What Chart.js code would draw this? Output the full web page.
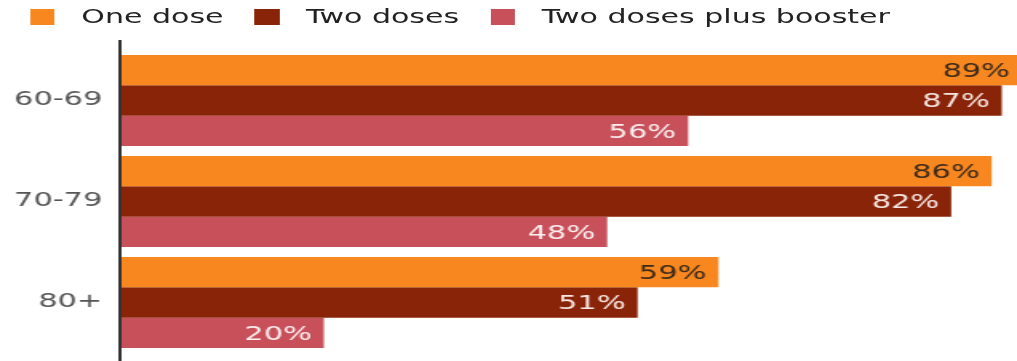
<!DOCTYPE html>
<html>
<head>
<meta charset="utf-8">
<script src="https://cdn.jsdelivr.net/npm/chart.js@4/dist/chart.umd.min.js"></script>
<style>
  html, body { margin: 0; padding: 0; background: #fff; overflow: hidden; }
  /* the reference is stretched sideways, so draw narrow and widen the whole thing */
  #wrap { position: relative; width: 636px; height: 361px; transform: scaleX(1.599); transform-origin: 0 0; }
  #legend { position: absolute; top: 0; left: 0; height: 34px; padding-left: 18.75px; display: flex; align-items: center;
            font-family: "DejaVu Sans", sans-serif; font-size: 18.8px; color: #222; line-height: 1; }
  #legend .box { width: 15.6px; height: 16px; margin-right: 16.5px; }
  #legend .txt { margin-right: 19.5px; }
  canvas { position: absolute; top: 0; left: 0; }
</style>
</head>
<body>
<div id="wrap">
  <div id="legend"></div>
  <canvas id="chart" width="636" height="361" style="width:636px;height:361px"></canvas>
</div>
<script>
const categories = ['60-69', '70-79', '80+'];
const seriesNames = ['One dose', 'Two doses', 'Two doses plus booster'];
const oneDose = [89, 86, 59];
const twoDoses = [87, 82, 51];
const booster = [56, 48, 20];

const colors = ['#f8871f', '#8a2408', '#c8505a'];
const labelColors = ['#3a2a1c', '#f6e7e2', '#fbeeee'];
const FONT = '"DejaVu Sans", sans-serif';

// html legend
const legend = document.getElementById('legend');
seriesNames.forEach((name, i) => {
  const b = document.createElement('span');
  b.className = 'box';
  b.style.background = colors[i];
  const t = document.createElement('span');
  t.className = 'txt';
  t.textContent = name;
  legend.appendChild(b);
  legend.appendChild(t);
});

// y axis line running a bit past the plot
const axisLine = {
  id: 'axisLine',
  beforeDatasetsDraw(chart) {
    const { ctx, chartArea } = chart;
    ctx.save();
    ctx.strokeStyle = '#333';
    ctx.lineWidth = 2;
    ctx.beginPath();
    ctx.moveTo(chartArea.left - 1, chartArea.top - 10);
    ctx.lineTo(chartArea.left - 1, chart.height);
    ctx.stroke();
    ctx.restore();
  }
};

// percentage labels inside the bar ends
const valueLabels = {
  id: 'valueLabels',
  afterDatasetsDraw(chart) {
    const { ctx } = chart;
    ctx.save();
    ctx.font = '19px ' + FONT;
    ctx.textAlign = 'right';
    ctx.textBaseline = 'middle';
    chart.data.datasets.forEach((ds, i) => {
      chart.getDatasetMeta(i).data.forEach((bar, j) => {
        ctx.fillStyle = labelColors[i];
        ctx.fillText(ds.data[j] + '%', bar.x - 7.5, bar.y + 2);
      });
    });
    ctx.restore();
  }
};

new Chart(document.getElementById('chart'), {
  type: 'bar',
  data: {
    labels: categories,
    datasets: [
      { label: seriesNames[0], data: oneDose, backgroundColor: colors[0] },
      { label: seriesNames[1], data: twoDoses, backgroundColor: colors[1] },
      { label: seriesNames[2], data: booster, backgroundColor: colors[2] },
    ],
  },
  options: {
    indexAxis: 'y',
    responsive: false,
    animation: false,
    devicePixelRatio: 1,
    layout: { padding: { top: 50, bottom: 8, left: 0, right: 0 } },
    datasets: { bar: { categoryPercentage: 0.9, barPercentage: 1.0, borderWidth: 0 } },
    plugins: { legend: { display: false }, tooltip: { enabled: false } },
    scales: {
      x: { min: 0, max: 88.5, display: false },
      y: {
        grid: { display: false, drawTicks: false },
        border: { display: false },
        ticks: { padding: 12, color: '#555', font: { family: FONT, size: 19 } },
        afterFit: s => { s.width = 76; s.paddingTop = 0; s.paddingBottom = 0; },
      },
    },
  },
  plugins: [axisLine, valueLabels],
});
</script>
</body>
</html>
